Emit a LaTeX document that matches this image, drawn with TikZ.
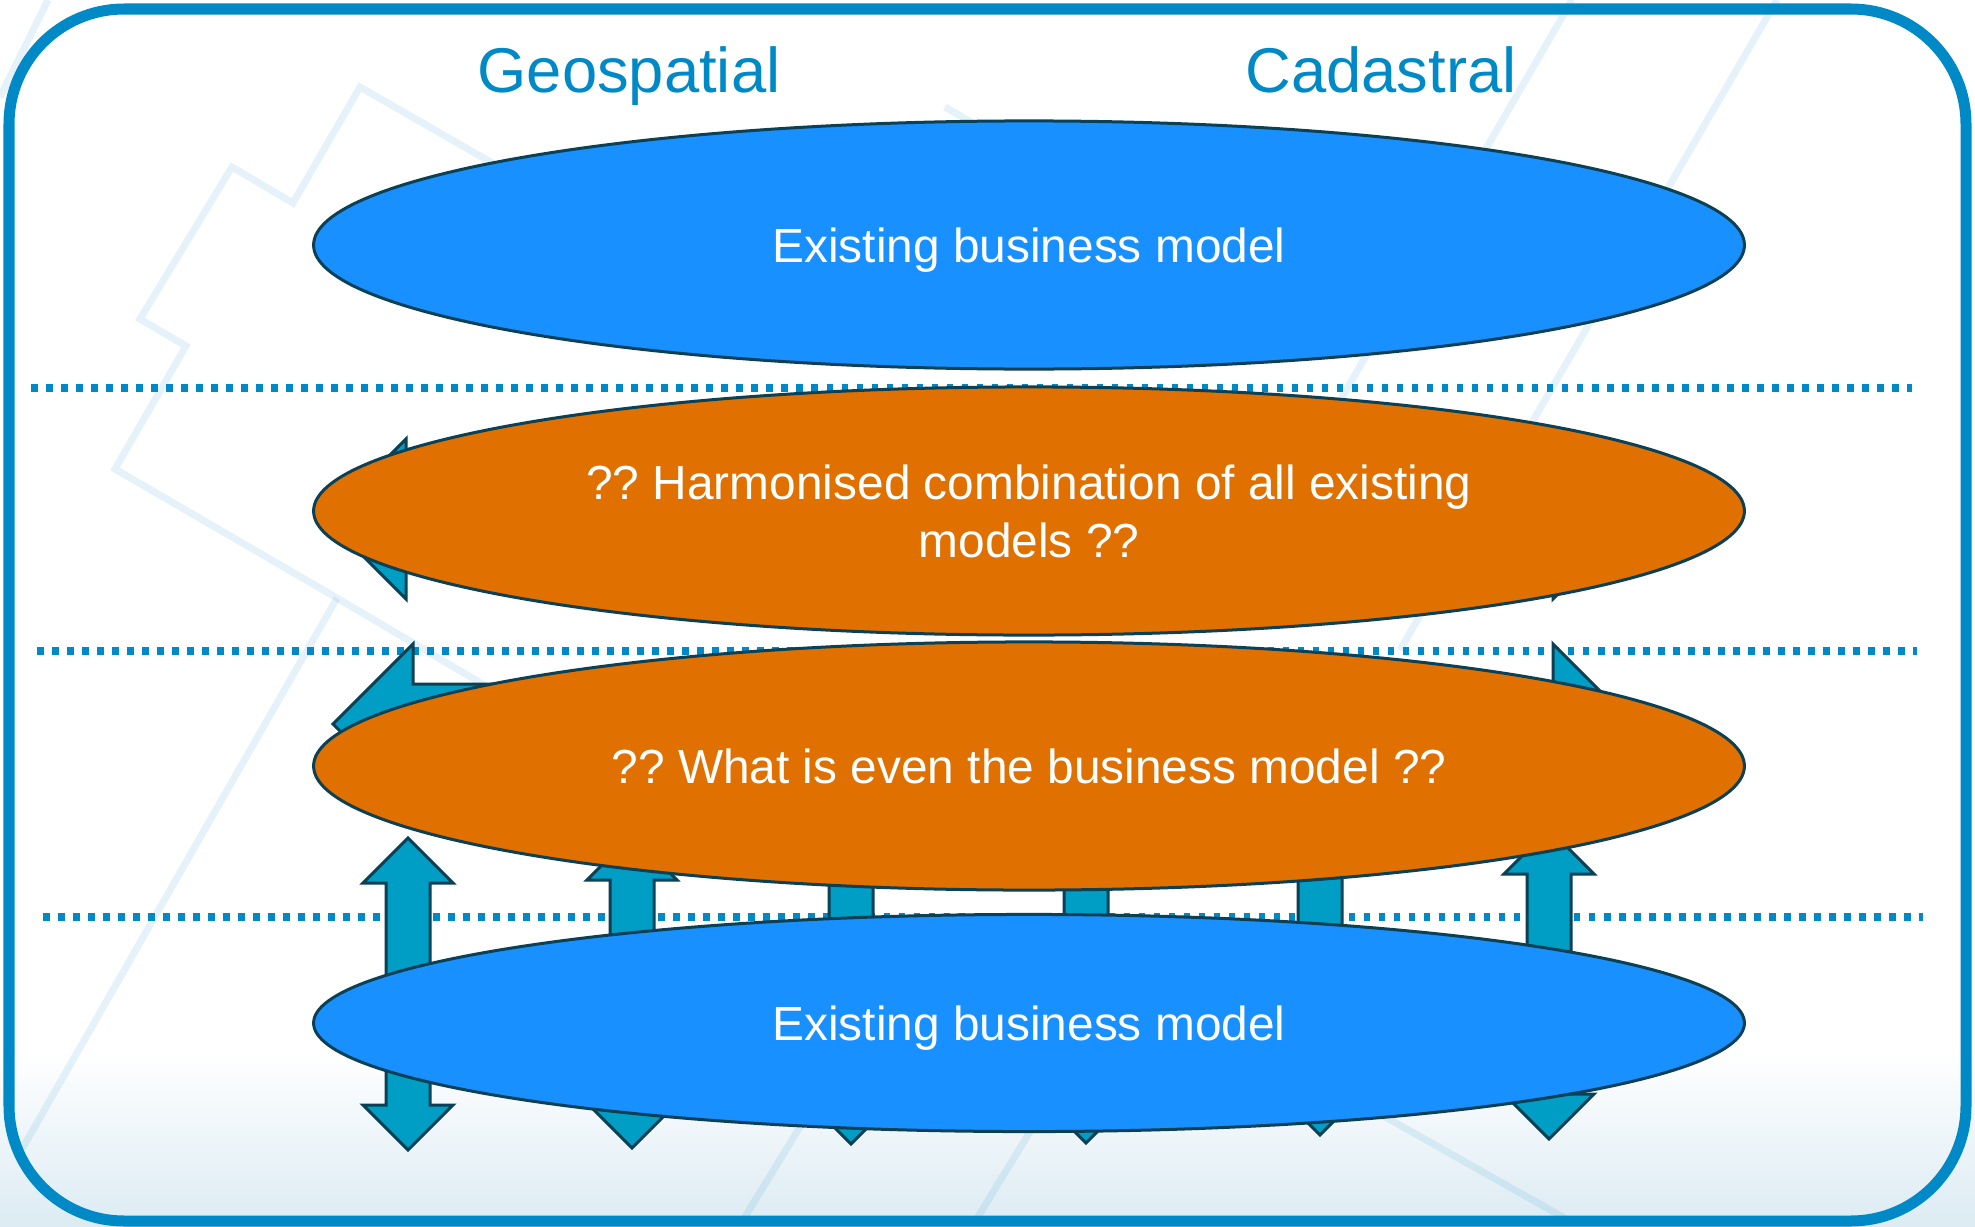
\documentclass[tikz,border=0pt]{standalone}
\usepackage{fontspec}
\setmainfont{Liberation Sans}
\usetikzlibrary{shapes.geometric}
\definecolor{framebox}{RGB}{0,137,199}
\definecolor{modelblue}{RGB}{24,144,255}
\definecolor{modelorange}{RGB}{224,112,0}
\definecolor{arrowteal}{RGB}{0,158,196}
\definecolor{edgedark}{RGB}{12,64,84}
\definecolor{floorgrey}{RGB}{220,235,243}
\frenchspacing

% up-down block arrow: x, top tip, bottom tip
\newcommand{\blockud}[3]{%
  \filldraw[blockarrow] (#1,#2) -- ({#1+45},{#2+45}) -- ({#1+22},{#2+45}) -- ({#1+22},{#3-45})
    -- ({#1+45},{#3-45}) -- (#1,#3) -- ({#1-45},{#3-45}) -- ({#1-22},{#3-45})
    -- ({#1-22},{#2+45}) -- ({#1-45},{#2+45}) -- cycle;}
% left-right block arrow: y, left tip, right tip
\newcommand{\blocklr}[3]{%
  \filldraw[blockarrow] (#2,#1) -- ({#2+80},{#1-80}) -- ({#2+80},{#1-40}) -- ({#3-80},{#1-40})
    -- ({#3-80},{#1-80}) -- (#3,#1) -- ({#3-80},{#1+80}) -- ({#3-80},{#1+40})
    -- ({#2+80},{#1+40}) -- ({#2+80},{#1+80}) -- cycle;}

\begin{document}
\begin{tikzpicture}[x=0.01cm,y=-0.01cm,
    model/.style={ellipse,draw=edgedark,line width=0.03cm,minimum width=14.3cm,minimum height=2.48cm,
      inner sep=0pt,text=white,align=center,text depth=0pt,font=\fontsize{13.6}{16.5}\selectfont},
    blockarrow/.style={fill=arrowteal,draw=edgedark,line width=0.03cm,line join=miter},
    divider/.style={draw=framebox,line width=0.075cm,dash pattern=on 0.065cm off 0.085cm},
    faint/.style={draw=framebox,draw opacity=0.1,line width=0.07cm},
    heading/.style={anchor=base,text=framebox,font=\fontsize{18}{22}\selectfont}]
    \useasboundingbox (0,0) rectangle (1975,1227);
    
    % slide background
    \fill[white] (0,0) rectangle (1975,1227);
    \shade[top color=white,bottom color=floorgrey] (0,1050) rectangle (1975,1227);
    
    %\draw[faint] background pattern
    \draw[faint] (0,97) -- (48,0);
    \draw[faint] (600,225) -- (360,87) -- (293,203) -- (232,167) -- (140,319) -- (186,346) -- (115,469) -- (337,598) -- (560,730);
    \draw[faint] (337,598) -- (22,1149);
    \draw[faint] (945,107) -- (1010,145);
    \draw[faint] (1572,0) -- (1300,470);
    \draw[faint] (1777,0) -- (1400,650);
    \draw[faint] (850,1045) -- (743,1220);
    \draw[faint] (1083,1045) -- (976,1220);
    \draw[faint] (1240,1035) -- (1568,1220);
    
    \draw[framebox,line width=0.11cm,rounded corners=1.15cm] (9,9) rectangle (1966,1221);
    
    \node[heading] (geo) at (629,92) {Geospatial};
    \node[heading] (cad) at (1381,92) {Cadastral};
    
    \draw[divider] (31,388) -- (1912,388);
    \draw[divider] (37,651) -- (1917,651);
    \draw[divider] (43,917) -- (1923,917);
    
    % arrows behind the middle layers
    \blocklr{519}{326}{1633}
    \blocklr{724}{333}{1633}
    
    \blockud{408}{838}{1150}
    \blockud{632}{835}{1148}
    \blockud{851}{832}{1144}
    \blockud{1086}{831}{1143}
    \blockud{1320}{823}{1135}
    \blockud{1549}{829}{1139}
    
    \node[model,fill=modelblue] (topmodel) at (1029,245) {Existing business model};
    \node[model,fill=modelorange] (harmonised) at (1029,511) {?? Harmonised combination of all existing\\models ??};
    \node[model,fill=modelorange] (whatis) at (1029,766) {?? What is even the business model ??};
    \node[model,fill=modelblue,minimum height=2.17cm] (bottommodel) at (1029,1023) {Existing business model};
    
\end{tikzpicture}
\end{document}
